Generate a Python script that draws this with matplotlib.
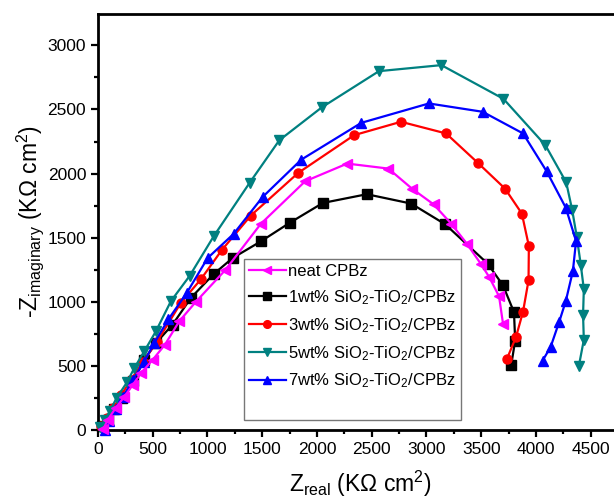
import numpy as np
import matplotlib
matplotlib.use('Agg')
import matplotlib.pyplot as plt
from matplotlib.lines import Line2D
from matplotlib.ticker import MultipleLocator

plt.rcParams['font.family'] = ['Liberation Sans', 'DejaVu Sans']
plt.rcParams['mathtext.fontset'] = 'custom'
plt.rcParams['mathtext.rm'] = 'Liberation Sans'
plt.rcParams['mathtext.it'] = 'Liberation Sans:italic'

# neat CPBz
neat_x = [50, 90, 160, 240, 317, 392, 499, 611, 742, 894, 1162, 1487, 1892, 2276, 2652,
          2867, 3065, 3226, 3369, 3495, 3573, 3663, 3699]
neat_y = [10, 80, 170, 259, 351, 442, 547, 665, 848, 1000, 1247, 1608, 1940, 2078, 2039,
          1883, 1760, 1609, 1453, 1297, 1193, 1042, 828]

# 1wt%
wt1_x = [40, 90, 150, 220, 320, 422, 529, 681, 849, 1055, 1229, 1487, 1749, 2054, 2455,
         2860, 3172, 3559, 3699, 3799, 3810, 3774]
wt1_y = [30, 80, 160, 250, 380, 547, 678, 822, 1031, 1215, 1341, 1471, 1615, 1771, 1839,
         1766, 1604, 1297, 1128, 919, 698, 508]

# 3wt%
wt3_x = [30, 80, 140, 210, 300, 410, 540, 757, 940, 1131, 1396, 1828, 2340, 2767, 3179,
         3470, 3717, 3871, 3935, 3932, 3882, 3817, 3735]
wt3_y = [30, 90, 170, 270, 390, 530, 690, 992, 1176, 1404, 1673, 2005, 2300, 2404, 2313,
         2083, 1883, 1688, 1435, 1167, 924, 724, 555]

# 5wt%
wt5_x = [20, 60, 110, 170, 265, 331, 422, 529, 666, 837, 1056, 1384, 1656, 2043, 2566,
         3136, 3703, 4086, 4276, 4330, 4373, 4409, 4437, 4430, 4437, 4391]
wt5_y = [20, 75, 150, 250, 372, 482, 613, 770, 1005, 1202, 1510, 1927, 2260, 2516, 2799,
         2846, 2583, 2221, 1932, 1719, 1505, 1289, 1099, 898, 703, 497]

# 7wt%
wt7_x = [60, 100, 160, 230, 320, 422, 514, 642, 812, 1001, 1238, 1503, 1857, 2405, 3022,
         3513, 3882, 4097, 4272, 4366, 4337, 4272, 4211, 4133, 4061]
wt7_y = [0, 70, 160, 260, 390, 534, 678, 862, 1071, 1341, 1529, 1817, 2109, 2396, 2547,
         2482, 2313, 2018, 1734, 1474, 1240, 1005, 841, 646, 542]

labels = ['neat CPBz',
          r'1wt% SiO$_\mathrm{2}$-TiO$_\mathrm{2}$/CPBz',
          r'3wt% SiO$_\mathrm{2}$-TiO$_\mathrm{2}$/CPBz',
          r'5wt% SiO$_\mathrm{2}$-TiO$_\mathrm{2}$/CPBz',
          r'7wt% SiO$_\mathrm{2}$-TiO$_\mathrm{2}$/CPBz']

fig = plt.figure(figsize=(6.14, 4.99), dpi=100)
ax = fig.add_axes([0.1596, 0.1383, 0.856, 0.8337])

series = [
    (neat_x, neat_y, '#ff00ff', '<', 6),
    (wt1_x, wt1_y, 'black', 's', 2),
    (wt3_x, wt3_y, '#ff0000', 'o', 3),
    (wt5_x, wt5_y, '#008080', 'v', 4),
    (wt7_x, wt7_y, '#0000ff', '^', 5),
]
handles = []
for (x, y, c, m, z), lab in zip(series, labels):
    h, = ax.plot(x, y, color=c, marker=m, ms=6.5, lw=1.6, zorder=z, label=lab,
                 clip_on=False)
    handles.append(h)

ax.set_xlim(0, 4800)
ax.set_ylim(0, 3245)
ax.xaxis.set_major_locator(MultipleLocator(500))
ax.xaxis.set_minor_locator(MultipleLocator(250))
ax.yaxis.set_major_locator(MultipleLocator(500))
ax.yaxis.set_minor_locator(MultipleLocator(250))
ax.tick_params(which='both', direction='out', width=1.6, labelsize=12.5)
ax.tick_params(which='major', length=5)
ax.tick_params(which='minor', length=3)
for s in ax.spines.values():
    s.set_linewidth(2)

ax.set_xlabel(r'Z$_\mathrm{real}$ (K$\Omega$ cm$^\mathrm{2}$)', fontsize=16.5, labelpad=9)
ax.set_ylabel(r'-Z$_\mathrm{imaginary}$ (K$\Omega$ cm$^\mathrm{2}$)', fontsize=16.5, labelpad=1)

blank = Line2D([], [], color='none')
leg = ax.legend(handles + [blank], labels + [' '], loc='upper left',
                bbox_to_anchor=(0.278, 0.411), fontsize=12, frameon=True,
                fancybox=False, edgecolor='#555555', handlelength=2.2,
                handletextpad=0.15, borderpad=0.3, labelspacing=0.55,
                borderaxespad=0, numpoints=1, markerscale=0.85)
leg.get_frame().set_linewidth(1.0)

fig.savefig('out.png', dpi=100)
